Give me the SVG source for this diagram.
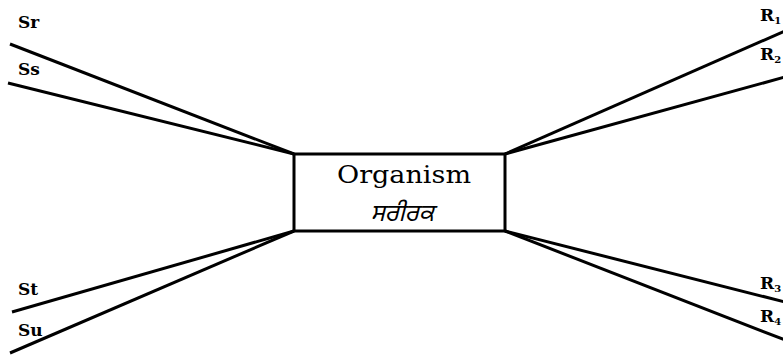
<svg xmlns="http://www.w3.org/2000/svg" width="783" height="355" viewBox="0 0 783 355">
<style>
.ln{stroke:#000;stroke-width:3;fill:none;stroke-linecap:butt}
.lb{font-family:"DejaVu Serif","Liberation Serif",serif;font-weight:bold;font-size:17px;fill:#000}
.sub{font-size:10px}
.t1{font-family:"DejaVu Serif","Liberation Serif",serif;font-size:24px;fill:#000}
.t2{font-family:"Noto Sans Gurmukhi","Noto Sans","DejaVu Sans",sans-serif;font-style:italic;font-size:24px;fill:#000}
</style>
<rect width="783" height="355" fill="#fff"/>
<g id="connectors">
<line class="ln" x1="294" y1="154" x2="10" y2="44"/>
<line class="ln" x1="294" y1="154" x2="8" y2="83"/>
<line class="ln" x1="294" y1="231" x2="12" y2="312"/>
<line class="ln" x1="294" y1="231" x2="10" y2="353"/>
<line class="ln" x1="505" y1="154" x2="785" y2="31"/>
<line class="ln" x1="505" y1="154" x2="785" y2="77"/>
<line class="ln" x1="505" y1="231" x2="785" y2="302"/>
<line class="ln" x1="505" y1="231" x2="785" y2="340"/>
</g>
<g id="organism">
<rect x="294" y="154" width="211" height="77" fill="#fff" stroke="#000" stroke-width="3"/>
<text class="t1" x="404" y="183" text-anchor="middle" textLength="134" lengthAdjust="spacingAndGlyphs">Organism</text>
<text class="t2" x="402" y="221" text-anchor="middle">ਸਰੀਰਕ</text>
</g>
<g id="labels">
<text class="lb" x="18" y="28">Sr</text>
<text class="lb" x="18" y="75">Ss</text>
<text class="lb" x="18" y="295">St</text>
<text class="lb" x="18" y="336">Su</text>
<text class="lb" x="760" y="21">R<tspan class="sub" dy="3">1</tspan></text>
<text class="lb" x="760" y="60">R<tspan class="sub" dy="3">2</tspan></text>
<text class="lb" x="760" y="289">R<tspan class="sub" dy="3">3</tspan></text>
<text class="lb" x="760" y="322">R<tspan class="sub" dy="3">4</tspan></text>
</g>
</svg>
